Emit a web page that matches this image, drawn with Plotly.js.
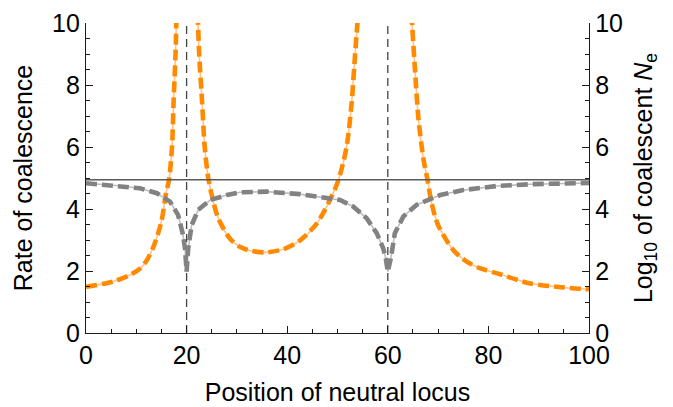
<!DOCTYPE html>
<html>
<head>
<meta charset="utf-8">
<script src="https://cdn.plot.ly/plotly-3.0.1.min.js"></script>
<style>
  html, body { margin: 0; padding: 0; background: #fff; }
  #chart { width: 673px; height: 407px; }
</style>
</head>
<body>
<div id="chart"></div>
<script>
// Rate of coalescence (orange), three branches separated by gaps at the selected loci
const rateX = [0, 5.4, 8.7, 10.7, 12.1, 13.5, 15.0, 15.9, 16.5, 17.1, 17.4, 17.8, 18.0, null,
               22.2, 22.5, 23.1, 23.6, 24.3, 25.0, 26.3, 28.6, 30.6, 32.6, 35.6, 39.2, 42.5, 45.9, 48.5, 50.2, 51.8, 52.8, 53.5, 54.1, null,
               64.7, 65.4, 66.1, 67.1, 67.9, 68.7, 70.0, 73.0, 75.7, 78.3, 81.6, 88.3, 94.9, 100];
const rateY = [1.49, 1.66, 1.87, 2.07, 2.35, 2.82, 3.60, 4.50, 4.94, 6.0, 7.4, 9.0, 10.3, null,
               10.3, 9.0, 7.4, 6.0, 5.0, 4.45, 3.70, 3.05, 2.78, 2.66, 2.60, 2.70, 2.98, 3.54, 4.29, 4.94, 6.0, 7.4, 9.0, 10.3, null,
               10.3, 8.5, 6.9, 5.6, 4.94, 4.2, 3.48, 2.68, 2.30, 2.09, 1.93, 1.60, 1.47, 1.41];

// Log10 of coalescent Ne (gray)
const neX = [0, 6.6, 10.7, 14.1, 16.7, 18.3, 19.3, 19.7, 20.0, 20.3, 21.0, 22.3, 24.7, 28.0, 30.6, 35.9, 42.5, 50.5, 53.1, 55.8, 57.8, 59.1, 59.6, 60.0, 60.6, 61.4, 63.1, 65.7, 70.4, 75.0, 81.6, 88.3, 100];
const neY = [4.83, 4.75, 4.67, 4.51, 4.24, 3.81, 3.16, 2.70, 1.98, 2.70, 3.48, 3.97, 4.29, 4.45, 4.54, 4.56, 4.48, 4.29, 4.08, 3.70, 3.22, 2.73, 2.41, 1.98, 2.41, 3.22, 3.76, 4.13, 4.45, 4.61, 4.74, 4.80, 4.84];

// Reference level (horizontal line) and selected loci (vertical dashed lines)
const referenceLevel = 4.94;
const selectedLoci = [20, 60];

const xRange = [0, 100];
const yRange = [0, 10];

const fontFam = '"Liberation Sans", Arial, Helvetica, sans-serif';

const traces = [];
// orange: thin light underline + thick dashes
traces.push({x: rateX, y: rateY, mode: 'lines', connectgaps: false, hoverinfo: 'skip',
  line: {color: '#FFC48A', width: 1.6, shape: 'spline', smoothing: 0.8}});
traces.push({x: rateX, y: rateY, mode: 'lines', connectgaps: false, hoverinfo: 'skip',
  line: {color: '#FF8A00', width: 4.6, dash: '11px,5px', shape: 'spline', smoothing: 0.8}});
// gray: thin light underline + thick dashes (right axis)
traces.push({x: neX, y: neY, yaxis: 'y2', mode: 'lines', hoverinfo: 'skip',
  line: {color: '#BDBDBD', width: 1.6}});
traces.push({x: neX, y: neY, yaxis: 'y2', mode: 'lines', hoverinfo: 'skip',
  line: {color: '#828282', width: 4.6, dash: '11px,5px'}});
// horizontal reference line
traces.push({x: xRange, y: [referenceLevel, referenceLevel], mode: 'lines', hoverinfo: 'skip',
  line: {color: '#5a5a5a', width: 1.5}});
// vertical dashed lines
selectedLoci.forEach(function (v) {
  traces.push({x: [v, v], y: yRange, mode: 'lines', hoverinfo: 'skip',
    line: {color: '#444444', width: 1.3, dash: '8px,5px'}});
});

const axisCommon = {
  showline: true, linecolor: '#1a1a1a', linewidth: 1.2,
  ticks: 'inside', ticklen: 7, tickwidth: 1, tickcolor: '#1a1a1a',
  showgrid: false, zeroline: false,
  tickfont: {family: fontFam, size: 25, color: '#000'}
};

const layout = {
  width: 673, height: 407,
  margin: {l: 86, r: 84, t: 23, b: 74, pad: 0},
  paper_bgcolor: '#fff', plot_bgcolor: '#fff',
  showlegend: false,
  font: {family: fontFam, color: '#000'},
  xaxis: Object.assign({}, axisCommon, {
    range: xRange, dtick: 20, tick0: 0,
    minor: {dtick: 5, ticks: 'inside', ticklen: 4, tickcolor: '#1a1a1a', tickwidth: 1},
    title: {text: 'Position of neutral locus', font: {family: fontFam, size: 25, color: '#000'}, standoff: 15}
  }),
  yaxis: Object.assign({}, axisCommon, {
    range: yRange, dtick: 2, tick0: 0,
    minor: {dtick: 0.5, ticks: 'inside', ticklen: 4, tickcolor: '#1a1a1a', tickwidth: 1},
    title: {text: 'Rate of coalescence', font: {family: fontFam, size: 25, color: '#000'}, standoff: 12}
  }),
  yaxis2: Object.assign({}, axisCommon, {
    range: yRange, dtick: 2, tick0: 0, overlaying: 'y', side: 'right',
    minor: {dtick: 0.5, ticks: 'inside', ticklen: 4, tickcolor: '#1a1a1a', tickwidth: 1},
    title: {text: 'Log<sub>10</sub> of coalescent <i>N</i><sub>e</sub>', font: {family: fontFam, size: 25, color: '#000'}, standoff: 12}
  })
};

Plotly.newPlot('chart', traces, layout, {staticPlot: true, displayModeBar: false});
</script>
</body>
</html>
